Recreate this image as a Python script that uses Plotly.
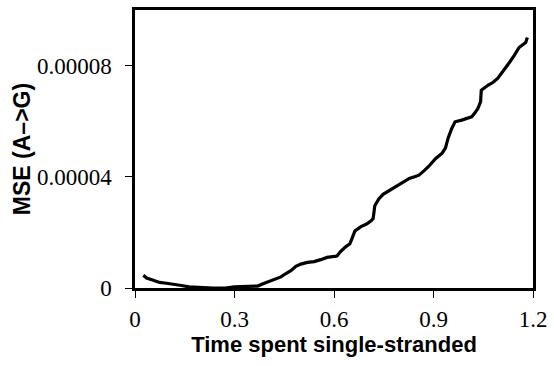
import plotly.graph_objects as go

# Data
time_ss = [0.025, 0.035, 0.055, 0.074, 0.095, 0.119, 0.140, 0.163, 0.198, 0.235, 0.272,
           0.300, 0.340, 0.370, 0.386, 0.416, 0.440, 0.455, 0.470, 0.485, 0.500, 0.520,
           0.540, 0.560, 0.579, 0.609, 0.619, 0.635, 0.648, 0.655, 0.663, 0.680, 0.698,
           0.712, 0.718, 0.723, 0.735, 0.748, 0.770, 0.787, 0.810, 0.827, 0.845, 0.856,
           0.872, 0.886, 0.906, 0.926, 0.936, 0.944, 0.955, 0.965, 0.985, 1.015, 1.025,
           1.034, 1.042, 1.044, 1.064, 1.080, 1.094, 1.104, 1.114, 1.130, 1.143, 1.158,
           1.170, 1.178, 1.183]
mse = [4.6e-6, 3.6e-6, 2.8e-6, 2.0e-6, 1.7e-6, 1.4e-6, 0.9e-6, 0.4e-6, 0.1e-6, 0.0, 0.0,
       0.4e-6, 0.6e-6, 0.7e-6, 1.5e-6, 2.9e-6, 4.0e-6, 5.2e-6, 6.2e-6, 7.8e-6, 8.6e-6, 9.2e-6,
       9.5e-6, 10.2e-6, 11.0e-6, 11.5e-6, 13.0e-6, 14.8e-6, 15.9e-6, 18.0e-6, 20.5e-6, 22.0e-6, 23.0e-6,
       24.2e-6, 25.0e-6, 29.6e-6, 32.0e-6, 33.7e-6, 35.3e-6, 36.7e-6, 38.3e-6, 39.4e-6, 40.1e-6, 40.6e-6,
       42.2e-6, 43.8e-6, 46.5e-6, 48.5e-6, 50.3e-6, 53.9e-6, 57.4e-6, 59.8e-6, 60.4e-6, 61.6e-6, 63.0e-6,
       64.6e-6, 67.0e-6, 71.1e-6, 72.9e-6, 74.0e-6, 75.5e-6, 77.0e-6, 78.8e-6, 81.3e-6, 83.6e-6, 86.5e-6,
       87.6e-6, 88.3e-6, 90.1e-6]

x_ticks = [0, 0.3, 0.6, 0.9, 1.2]
x_tick_labels = ["0", "0.3", "0.6", "0.9", "1.2"]
y_ticks = [0, 0.00004, 0.00008]
y_tick_labels = ["0", "0.00004", "0.00008"]

fig = go.Figure()
fig.add_trace(go.Scatter(
    x=time_ss, y=mse, mode="lines",
    line=dict(color="black", width=3.2),
    showlegend=False,
))

serif = "Liberation Serif, Times New Roman, serif"
sans = "Liberation Sans, Arial, sans-serif"

fig.update_layout(
    width=554, height=366,
    margin=dict(l=135, r=15, t=7, b=78),
    paper_bgcolor="white", plot_bgcolor="white",
    font=dict(family=serif, size=23, color="black"),
)
fig.update_xaxes(
    range=[0, 1.2], tickvals=x_ticks, ticktext=x_tick_labels,
    ticks="outside", ticklen=7, tickwidth=1, tickcolor="black",
    showline=True, linecolor="black", linewidth=2.5, mirror=True,
    showgrid=False, zeroline=False,
    tickfont=dict(family=serif, size=23), ticklabelstandoff=2,
    title=dict(text="<b>Time spent single-stranded</b>", font=dict(family=sans, size=22), standoff=0),
)
fig.update_yaxes(
    range=[0, 0.0001], tickvals=y_ticks, ticktext=y_tick_labels,
    ticks="outside", ticklen=7, tickwidth=1, tickcolor="black",
    showline=True, linecolor="black", linewidth=2.5, mirror=True,
    showgrid=False, zeroline=False,
    tickfont=dict(family=serif, size=23), ticklabelstandoff=9,
    title=dict(text="<b>MSE (A–>G)</b>", font=dict(family=sans, size=23), standoff=0),
)

fig.write_html("out.html")
